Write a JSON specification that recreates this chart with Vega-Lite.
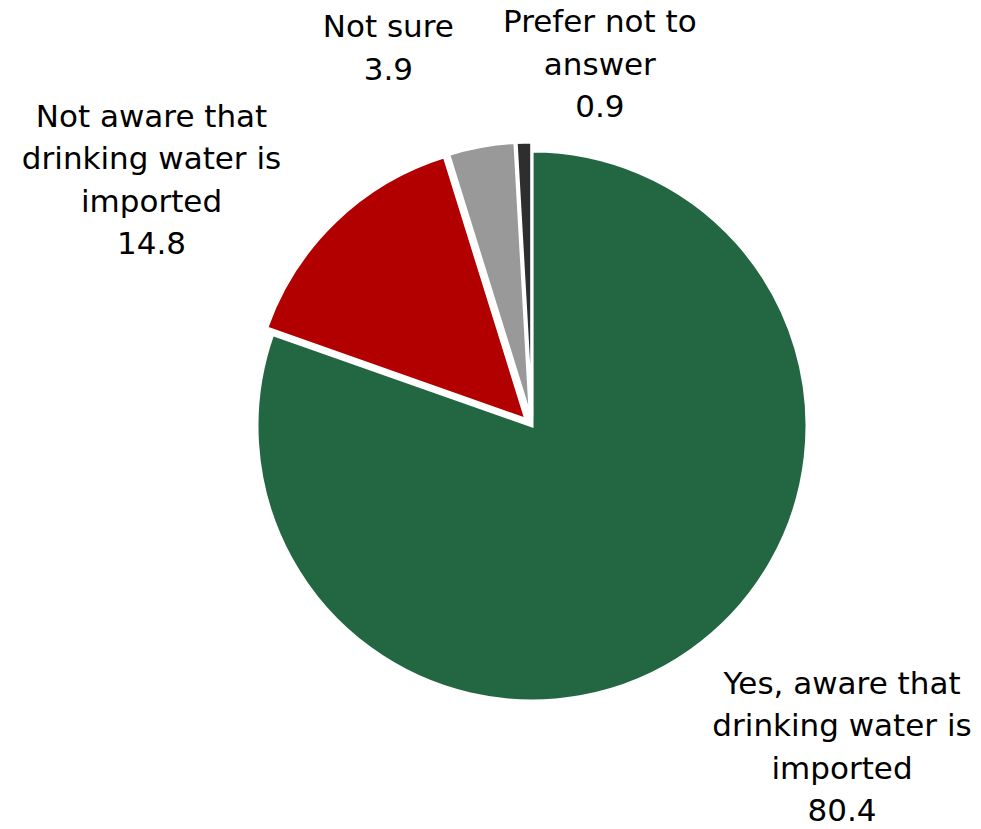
{
  "$schema": "https://vega.github.io/schema/vega-lite/v6.json",
  "autosize": {"type": "none"},
  "padding": {"left": 83, "top": 23, "right": 0, "bottom": 0},
  "width": 898,
  "height": 806,
  "background": "white",
  "view": {"stroke": null},
  "data": {
    "values": [
      {"rank": 1, "category": "Yes, aware that drinking water is imported", "label": "Yes, aware that\ndrinking water is\nimported", "value": 80.4},
      {"rank": 2, "category": "Not aware that drinking water is imported", "label": "Not aware that\ndrinking water is\nimported", "value": 14.8},
      {"rank": 3, "category": "Not sure", "label": "Not sure", "value": 3.9},
      {"rank": 4, "category": "Prefer not to answer", "label": "Prefer not to\nanswer", "value": 0.9}
    ]
  },
  "transform": [
    {"stack": "value", "groupby": [], "sort": [{"field": "rank", "order": "ascending"}], "as": ["v0", "v1"]},
    {"calculate": "(datum.v0 + datum.v1) / 2", "as": "mid"},
    {"calculate": "datum.label + '\\n' + format(datum.value, '.1f')", "as": "text"}
  ],
  "encoding": {
    "color": {
      "field": "category",
      "type": "nominal",
      "legend": null,
      "scale": {
        "domain": ["Yes, aware that drinking water is imported", "Not aware that drinking water is imported", "Not sure", "Prefer not to answer"],
        "range": ["#236642", "#B20000", "#999999", "#2E2E2E"]
      }
    }
  },
  "layer": [
    {
      "transform": [{"filter": "datum.rank == 1"}],
      "mark": {"type": "arc", "outerRadius": 275, "stroke": "white", "strokeWidth": 3},
      "encoding": {
        "theta": {"field": "v0", "type": "quantitative", "scale": {"domain": [0, 100]}},
        "theta2": {"field": "v1"}
      }
    },
    {
      "transform": [{"filter": "datum.rank == 2"}],
      "mark": {"type": "arc", "outerRadius": 275, "stroke": "white", "strokeWidth": 3, "xOffset": -6, "yOffset": -6.5},
      "encoding": {
        "theta": {"field": "v0", "type": "quantitative", "scale": {"domain": [0, 100]}},
        "theta2": {"field": "v1"}
      }
    },
    {
      "transform": [{"filter": "datum.rank == 3"}],
      "mark": {"type": "arc", "outerRadius": 275, "stroke": "white", "strokeWidth": 3, "xOffset": -1.6, "yOffset": -8.9},
      "encoding": {
        "theta": {"field": "v0", "type": "quantitative", "scale": {"domain": [0, 100]}},
        "theta2": {"field": "v1"}
      }
    },
    {
      "transform": [{"filter": "datum.rank == 4"}],
      "mark": {"type": "arc", "outerRadius": 275, "stroke": "white", "strokeWidth": 3, "xOffset": -0.3, "yOffset": -9},
      "encoding": {
        "theta": {"field": "v0", "type": "quantitative", "scale": {"domain": [0, 100]}},
        "theta2": {"field": "v1"}
      }
    },
    {
      "transform": [{"filter": "datum.rank == 1"}],
      "mark": {"type": "text", "radius": 400, "dx": 79, "dy": -68, "font": "DejaVu Sans", "fontSize": 31, "lineHeight": 42.5, "lineBreak": "\n", "align": "center", "baseline": "middle"},
      "encoding": {
        "theta": {"field": "mid", "type": "quantitative", "scale": {"domain": [0, 100]}},
        "text": {"field": "text"},
        "color": {"value": "black"}
      }
    },
    {
      "transform": [{"filter": "datum.rank == 2"}],
      "mark": {"type": "text", "radius": 400, "dx": -103, "dy": -20, "font": "DejaVu Sans", "fontSize": 31, "lineHeight": 42.5, "lineBreak": "\n", "align": "center", "baseline": "middle"},
      "encoding": {
        "theta": {"field": "mid", "type": "quantitative", "scale": {"domain": [0, 100]}},
        "text": {"field": "text"},
        "color": {"value": "black"}
      }
    },
    {
      "transform": [{"filter": "datum.rank == 3"}],
      "mark": {"type": "text", "radius": 380, "dx": -76, "dy": -24, "font": "DejaVu Sans", "fontSize": 31, "lineHeight": 42.5, "lineBreak": "\n", "align": "center", "baseline": "middle"},
      "encoding": {
        "theta": {"field": "mid", "type": "quantitative", "scale": {"domain": [0, 100]}},
        "text": {"field": "text"},
        "color": {"value": "black"}
      }
    },
    {
      "transform": [{"filter": "datum.rank == 4"}],
      "mark": {"type": "text", "radius": 360, "dx": 78, "dy": -43, "font": "DejaVu Sans", "fontSize": 31, "lineHeight": 42.5, "lineBreak": "\n", "align": "center", "baseline": "middle"},
      "encoding": {
        "theta": {"field": "mid", "type": "quantitative", "scale": {"domain": [0, 100]}},
        "text": {"field": "text"},
        "color": {"value": "black"}
      }
    }
  ]
}
